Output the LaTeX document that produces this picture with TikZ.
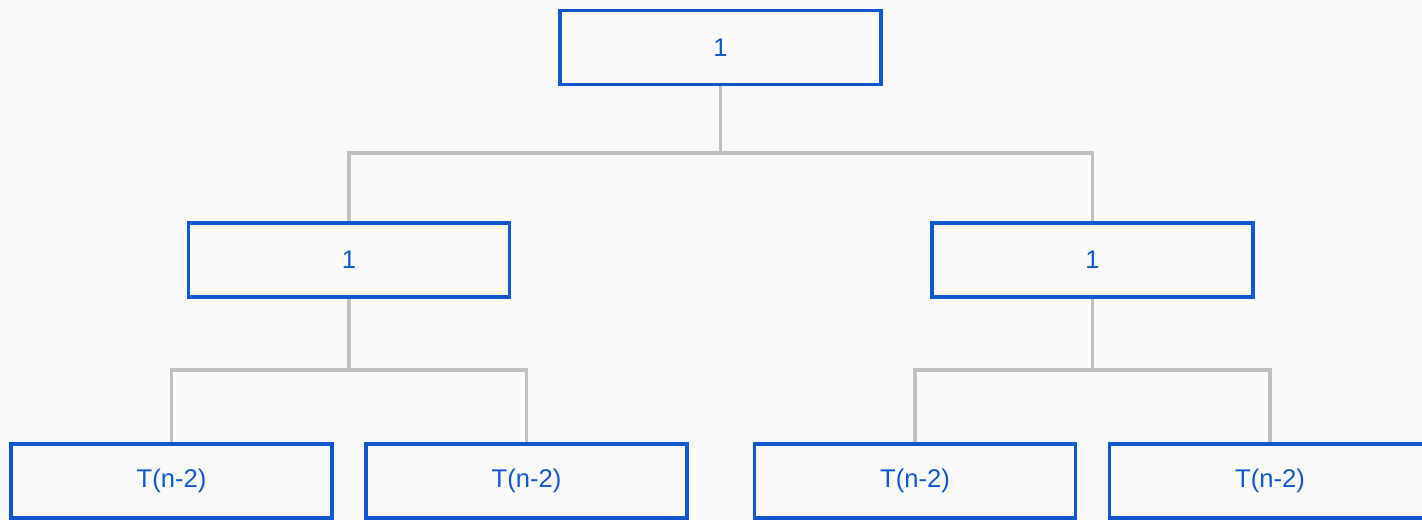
\documentclass[tikz,border=0pt]{standalone}
\usepackage{fontspec}
\setmainfont{Liberation Sans}
\usepackage{tikz}
\usetikzlibrary{positioning, backgrounds}

\definecolor{boxblue}{RGB}{17,88,208}
\definecolor{linkgray}{RGB}{192,192,192}
\definecolor{pagebg}{RGB}{250,250,250}

\begin{document}
\begin{tikzpicture}[x=0.75pt, y=-0.75pt,
    callbox/.style={draw=boxblue, line width=2.6pt, fill=pagebg, text=boxblue,
        minimum width=240.5pt, minimum height=55.5pt, inner sep=0pt, outer sep=0pt,
        font=\fontsize{19.2}{22}\selectfont},
    link/.style={draw=linkgray, line width=2.4pt}]
    % Page and margins
    \useasboundingbox (0,0) rectangle (1422,520);

    % Root call
    \node[callbox] (root) at (720.5, 47.5) {1};

    % Second level
    \node[callbox] (left) at (349, 260) {1};
    \node[callbox] (right) at (1092.5, 260) {1};

    % Leaves: T(n-2)
    \node[callbox] (ll) at (171.5, 481) {T(n-2)};
    \node[callbox] (lr) at (526.5, 481) {T(n-2)};
    \node[callbox] (rl) at (915, 481) {T(n-2)};
    \node[callbox] (rr) at (1270, 481) {T(n-2)};

    % Connectors (behind the boxes)
    \begin{scope}[on background layer]
        \fill[pagebg] (0,0) rectangle (1422,520);
        \draw[link] (root.south) -- (root.south |- 0,153) -| (left.north);
        \draw[link] (root.south |- 0,153) -| (right.north);
        \draw[link] (left.south) -- (left.south |- 0,370) -| (ll.north);
        \draw[link] (left.south |- 0,370) -| (lr.north);
        \draw[link] (right.south) -- (right.south |- 0,370) -| (rl.north);
        \draw[link] (right.south |- 0,370) -| (rr.north);
    \end{scope}
\end{tikzpicture}
\end{document}
